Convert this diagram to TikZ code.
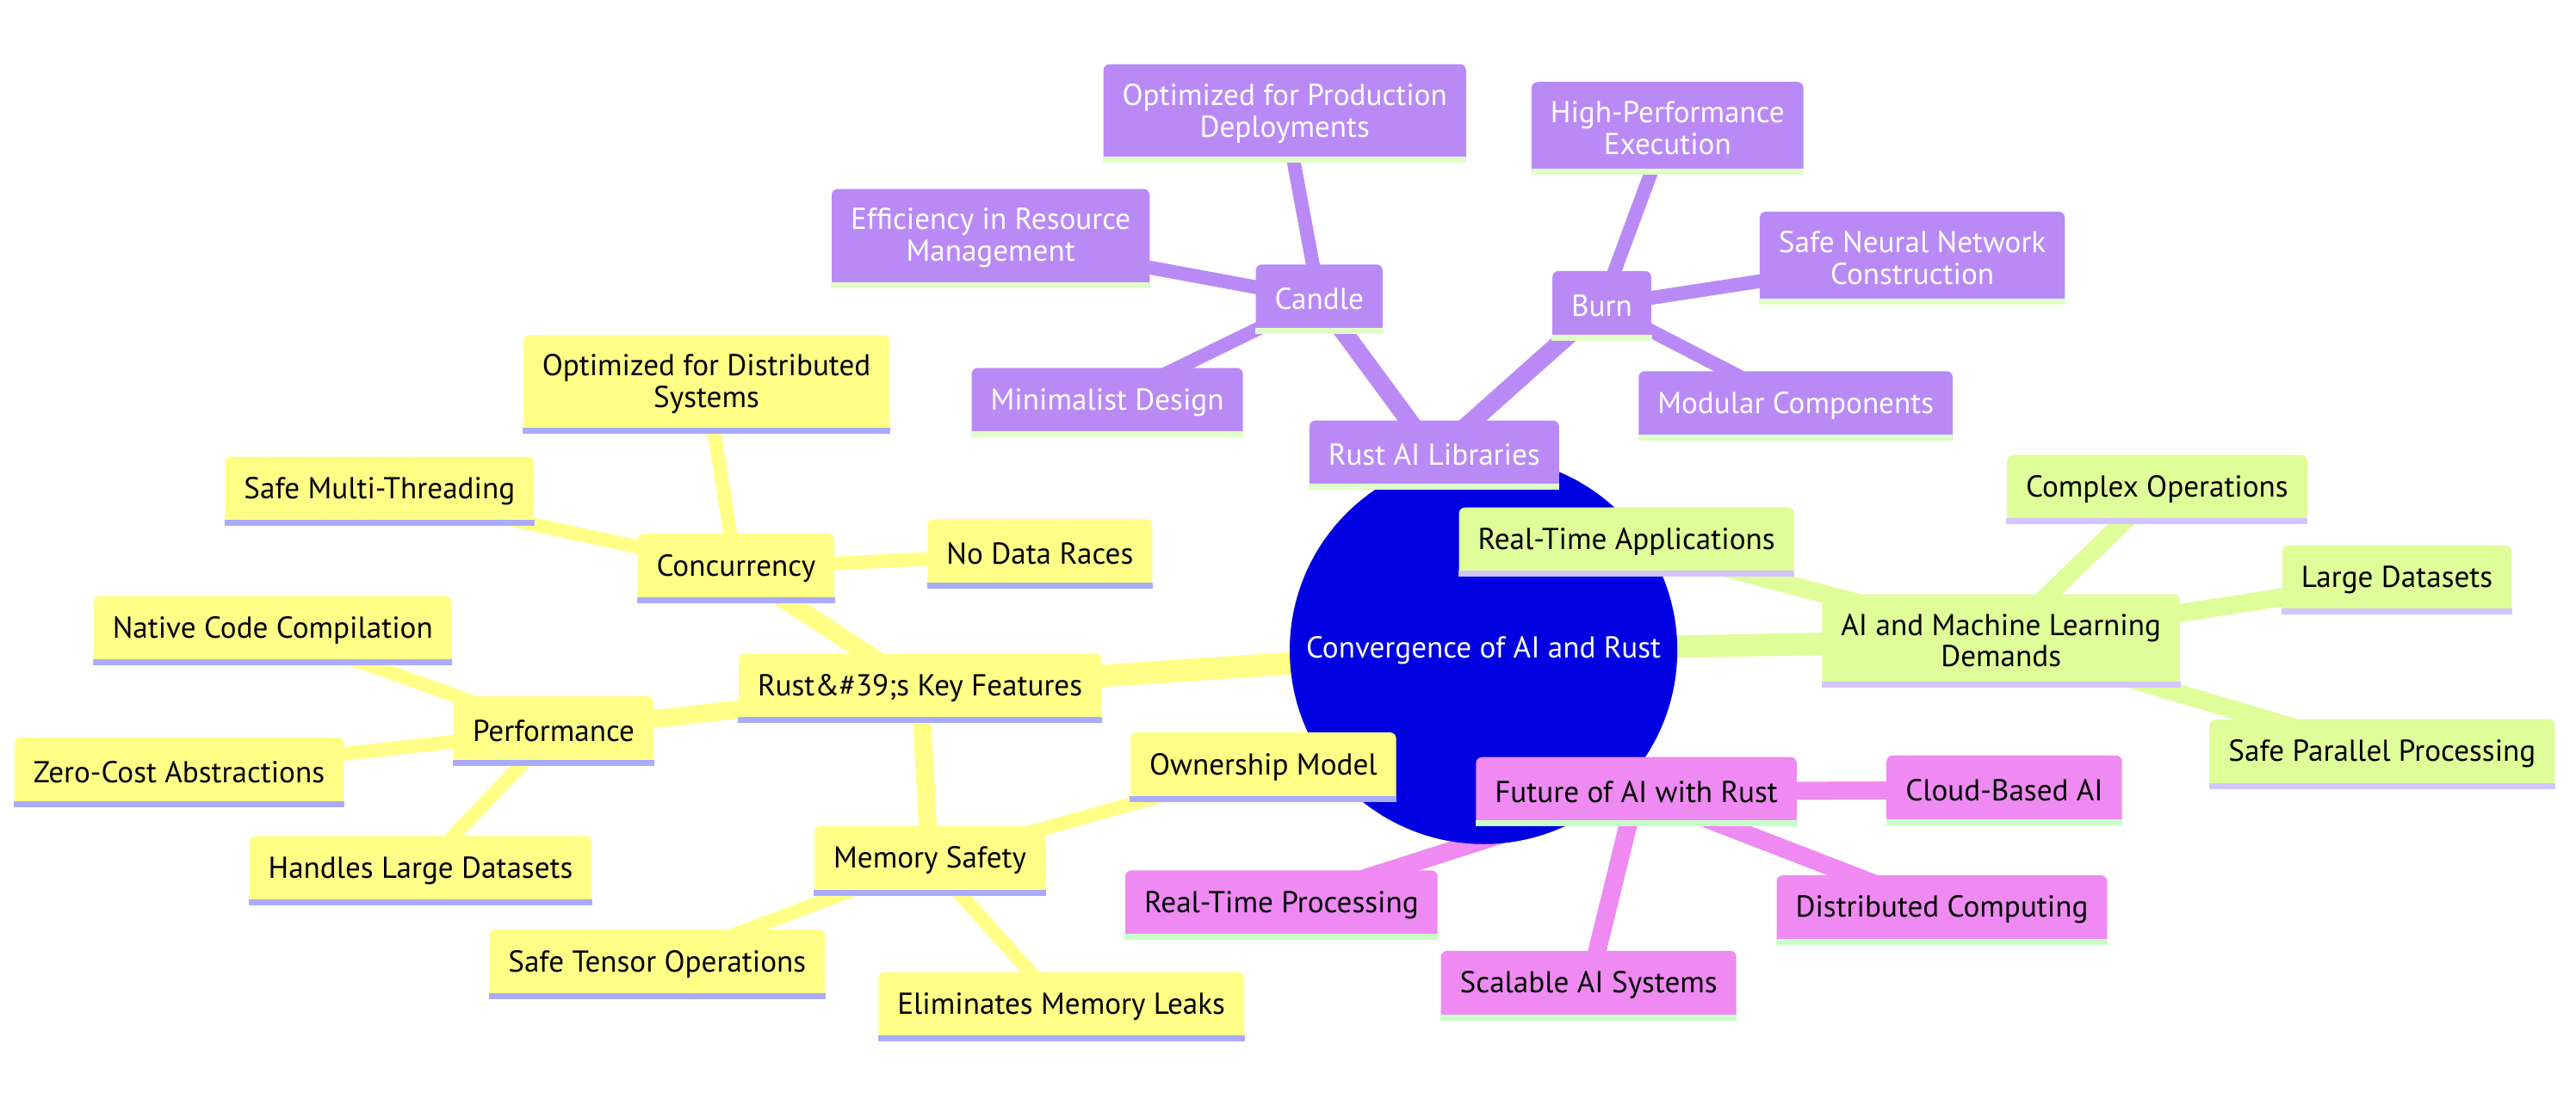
\documentclass[tikz,border=0pt]{standalone}
\usepackage{fontspec}
\setmainfont{PT Sans}
\usetikzlibrary{positioning}

\definecolor{rootblue}{HTML}{0000E0}
\definecolor{ylwfill}{HTML}{FFFF88}
\definecolor{ylwline}{HTML}{AAAAFF}
\definecolor{purfill}{HTML}{B98AF5}
\definecolor{purline}{HTML}{E0FFC8}
\definecolor{grnfill}{HTML}{DFFD98}
\definecolor{grnline}{HTML}{D2C4FF}
\definecolor{pnkfill}{HTML}{EE8AF2}
\definecolor{pnkline}{HTML}{C8FFC8}

\pgfdeclarelayer{bg}
\pgfsetlayers{bg,main}

\begin{document}
\begin{tikzpicture}[x=0.01908cm, y=-0.01908cm, font=\fontsize{10}{10.5}\selectfont]
			\tikzstyle{box} = [rounded corners=2pt, inner xsep=0.22cm, inner ysep=0.225cm, minimum height=0.8cm, align=center]
			\tikzstyle{ylw} = [box, fill=ylwfill]
			\tikzstyle{pur} = [box, fill=purfill, text=white]
			\tikzstyle{grn} = [box, fill=grnfill]
			\tikzstyle{pnk} = [box, fill=pnkfill]
			\tikzstyle{trunk} = [line width=0.26cm]
			\tikzstyle{branch} = [line width=0.21cm]
			\tikzstyle{twig} = [line width=0.16cm]
			\useasboundingbox (0,0) rectangle (1568,669);

			\path
			node[circle, fill=rootblue, text=white, minimum size=4.5cm, inner sep=0pt] (root) at (903,396) {Convergence of AI and Rust}
			% yellow
			node[ylw] (key) at (560,419) {Rust\&\#39;s Key Features}
			node[ylw] (conc) at (448,346) {Concurrency}
			node[ylw] (odist) at (430,234) {Optimized for Distributed\\Systems}
			node[ylw] (smt) at (231,299) {Safe Multi-Threading}
			node[ylw] (ndr) at (633,337) {No Data Races}
			node[ylw] (perf) at (337,445) {Performance}
			node[ylw] (ncc) at (166,384) {Native Code Compilation}
			node[ylw] (zca) at (109,470) {Zero-Cost Abstractions}
			node[ylw] (hld) at (256,530) {Handles Large Datasets}
			node[ylw] (mem) at (566,524) {Memory Safety}
			node[ylw] (own) at (769,467) {Ownership Model}
			node[ylw] (sto) at (400,587) {Safe Tensor Operations}
			node[ylw] (eml) at (646,613) {Eliminates Memory Leaks}
			% purple
			node[pur] (lib) at (873,277) {Rust AI Libraries}
			node[pur] (cdl) at (803,182) {Candle}
			node[pur] (oprod) at (782,69) {Optimized for Production\\Deployments}
			node[pur] (eff) at (603,145) {Efficiency in Resource\\Management}
			node[pur] (mini) at (674,245) {Minimalist Design}
			node[pur] (burn) at (975,186) {Burn}
			node[pur] (hpe) at (1015,78) {High-Performance\\Execution}
			node[pur] (snn) at (1164,157) {Safe Neural Network\\Construction}
			node[pur] (mod) at (1093,247) {Modular Components}
			% green
			node[grn] (aiml) at (1218,390) {AI and Machine Learning\\Demands}
			node[grn] (rta) at (990,330) {Real-Time Applications}
			node[grn] (cop) at (1313,298) {Complex Operations}
			node[grn] (lds) at (1459,353) {Large Datasets}
			node[grn] (spp) at (1450,459) {Safe Parallel Processing}
			% pink
			node[pnk] (fut) at (996,482) {Future of AI with Rust}
			node[pnk] (cba) at (1220,481) {Cloud-Based AI}
			node[pnk] (rtp) at (780,551) {Real-Time Processing}
			node[pnk] (sais) at (967,600) {Scalable AI Systems}
			node[pnk] (dcp) at (1182,554) {Distributed Computing}
			;

			% bottom bars
			\foreach \n/\c in {key/ylwline, conc/ylwline, odist/ylwline, smt/ylwline, ndr/ylwline,
				perf/ylwline, ncc/ylwline, zca/ylwline, hld/ylwline, mem/ylwline, own/ylwline,
				sto/ylwline, eml/ylwline, lib/purline, cdl/purline, oprod/purline, eff/purline,
				mini/purline, burn/purline, hpe/purline, snn/purline, mod/purline, aiml/grnline,
				rta/grnline, cop/grnline, lds/grnline, spp/grnline, fut/pnkline, cba/pnkline,
				rtp/pnkline, sais/pnkline, dcp/pnkline}
				\fill[\c] ([yshift=2pt]\n.south west) rectangle (\n.south east);

			\begin{pgfonlayer}{bg}
			\path[ylwfill]
			(root.center) edge[trunk] (key.center)
			(key.center) edge[branch] (conc.center)
			(key.center) edge[branch] (perf.center)
			(key.center) edge[branch] (mem.center)
			(conc.center) edge[twig] (odist.center)
			(conc.center) edge[twig] (smt.center)
			(conc.center) edge[twig] (ndr.center)
			(perf.center) edge[twig] (ncc.center)
			(perf.center) edge[twig] (zca.center)
			(perf.center) edge[twig] (hld.center)
			(mem.center) edge[twig] (own.center)
			(mem.center) edge[twig] (sto.center)
			(mem.center) edge[twig] (eml.center)
			;
			\path[purfill]
			(root.center) edge[trunk] (lib.center)
			(lib.center) edge[branch] (cdl.center)
			(lib.center) edge[branch] (burn.center)
			(cdl.center) edge[twig] (oprod.center)
			(cdl.center) edge[twig] (eff.center)
			(cdl.center) edge[twig] (mini.center)
			(burn.center) edge[twig] (hpe.center)
			(burn.center) edge[twig] (snn.center)
			(burn.center) edge[twig] (mod.center)
			;
			\path[grnfill]
			(root.center) edge[trunk] (aiml.center)
			(aiml.center) edge[branch] (rta.center)
			(aiml.center) edge[branch] (cop.center)
			(aiml.center) edge[branch] (lds.center)
			(aiml.center) edge[branch] (spp.center)
			;
			\path[pnkfill]
			(root.center) edge[trunk] (fut.center)
			(fut.center) edge[branch] (cba.center)
			(fut.center) edge[branch] (rtp.center)
			(fut.center) edge[branch] (sais.center)
			(fut.center) edge[branch] (dcp.center)
			;
			\end{pgfonlayer}
\end{tikzpicture}
\end{document}
